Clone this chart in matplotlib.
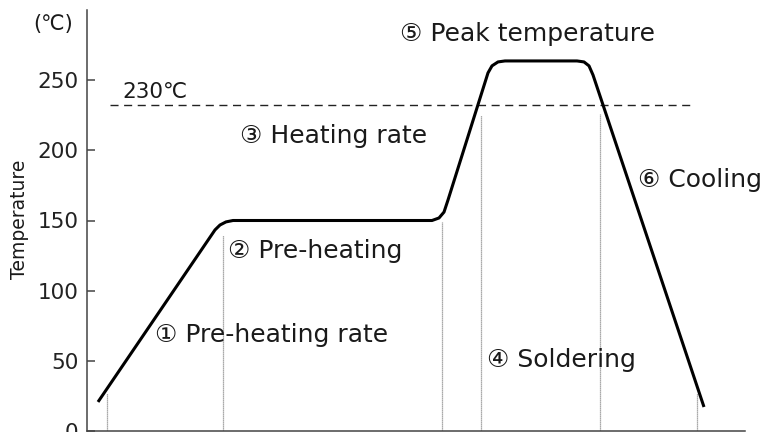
import matplotlib
matplotlib.use("Agg")
import matplotlib.pyplot as plt

plt.rcParams['font.family'] = ['DejaVu Sans', 'Noto Sans CJK JP']

# Reflow profile (time in arbitrary units, temperature in degC)
profile_time = [11, 128, 133, 139, 146, 345, 352, 357, 361, 401, 405, 411, 418,
                490, 497, 502, 506, 617]
profile_temp = [20.7, 143.3, 146.8, 149.0, 150, 150, 151.8, 156, 164.6, 255.2,
                260.2, 263, 263.7, 263.7, 263, 260.2, 253.7, 17.1]

# 230 degC reference line
ref_temp = 232
ref_span = [23, 606]

# Vertical phase separators (time, top temperature)
sep_time = [20, 136, 355, 394, 513, 610]
sep_top = [27, 140, 149, 225, 226, 27]

yticks = [0, 50, 100, 150, 200, 250]

labels = ["① Pre-heating rate", "② Pre-heating", "③ Heating rate",
          "④ Soldering", "⑤ Peak temperature", "⑥ Cooling"]
label_x = [68, 141, 153, 400, 313, 551]
label_y = [63.4, 123.3, 205.3, 45.6, 278, 174]

W, H = 771, 432
fig = plt.figure(figsize=(W / 100, H / 100), dpi=100)
ax = fig.add_axes([87 / W, 1 / H, (745 - 87) / W, (431 - 10) / H])
ax.set_xlim(0, 658)
ax.set_ylim(0, 300)

spine_col = '#444444'
for s in ['top', 'right']:
    ax.spines[s].set_visible(False)
for s in ['left', 'bottom']:
    ax.spines[s].set_color(spine_col)
    ax.spines[s].set_linewidth(1.1)
    ax.spines[s].set_clip_on(False)

ax.set_xticks([])
ax.set_yticks(yticks)
ax.tick_params(axis='y', direction='in', length=5.5, width=1.1, color=spine_col,
               labelsize=15.5, labelcolor='#222222', pad=6)

# separators
for t, top in zip(sep_time, sep_top):
    ax.plot([t, t], [0, top], color='#8f8f8f', lw=0.9, linestyle=(0, (1, 0.6)))

# reference line
ax.plot(ref_span, [ref_temp, ref_temp], color='#222222', lw=1.0,
        linestyle=(0, (5.8, 4)))

# profile
ax.plot(profile_time, profile_temp, color='black', lw=2.2,
        solid_joinstyle='round', solid_capstyle='butt')

for txt, x, y in zip(labels, label_x, label_y):
    ax.text(x, y, txt, fontsize=18, color='#1a1a1a', ha='left', va='baseline')

ax.text(35, 237.3, "230℃", fontsize=15.5, color='#1a1a1a', ha='left', va='baseline')
ax.text(-34, 285.8, "(℃)", fontsize=15, color='#1a1a1a', ha='center',
        va='baseline', clip_on=False)
ax.text(-67, 151, "Temperature", fontsize=13.5, color='#1a1a1a', rotation=90,
        ha='center', va='center', clip_on=False)

fig.savefig("out.png", dpi=100)
